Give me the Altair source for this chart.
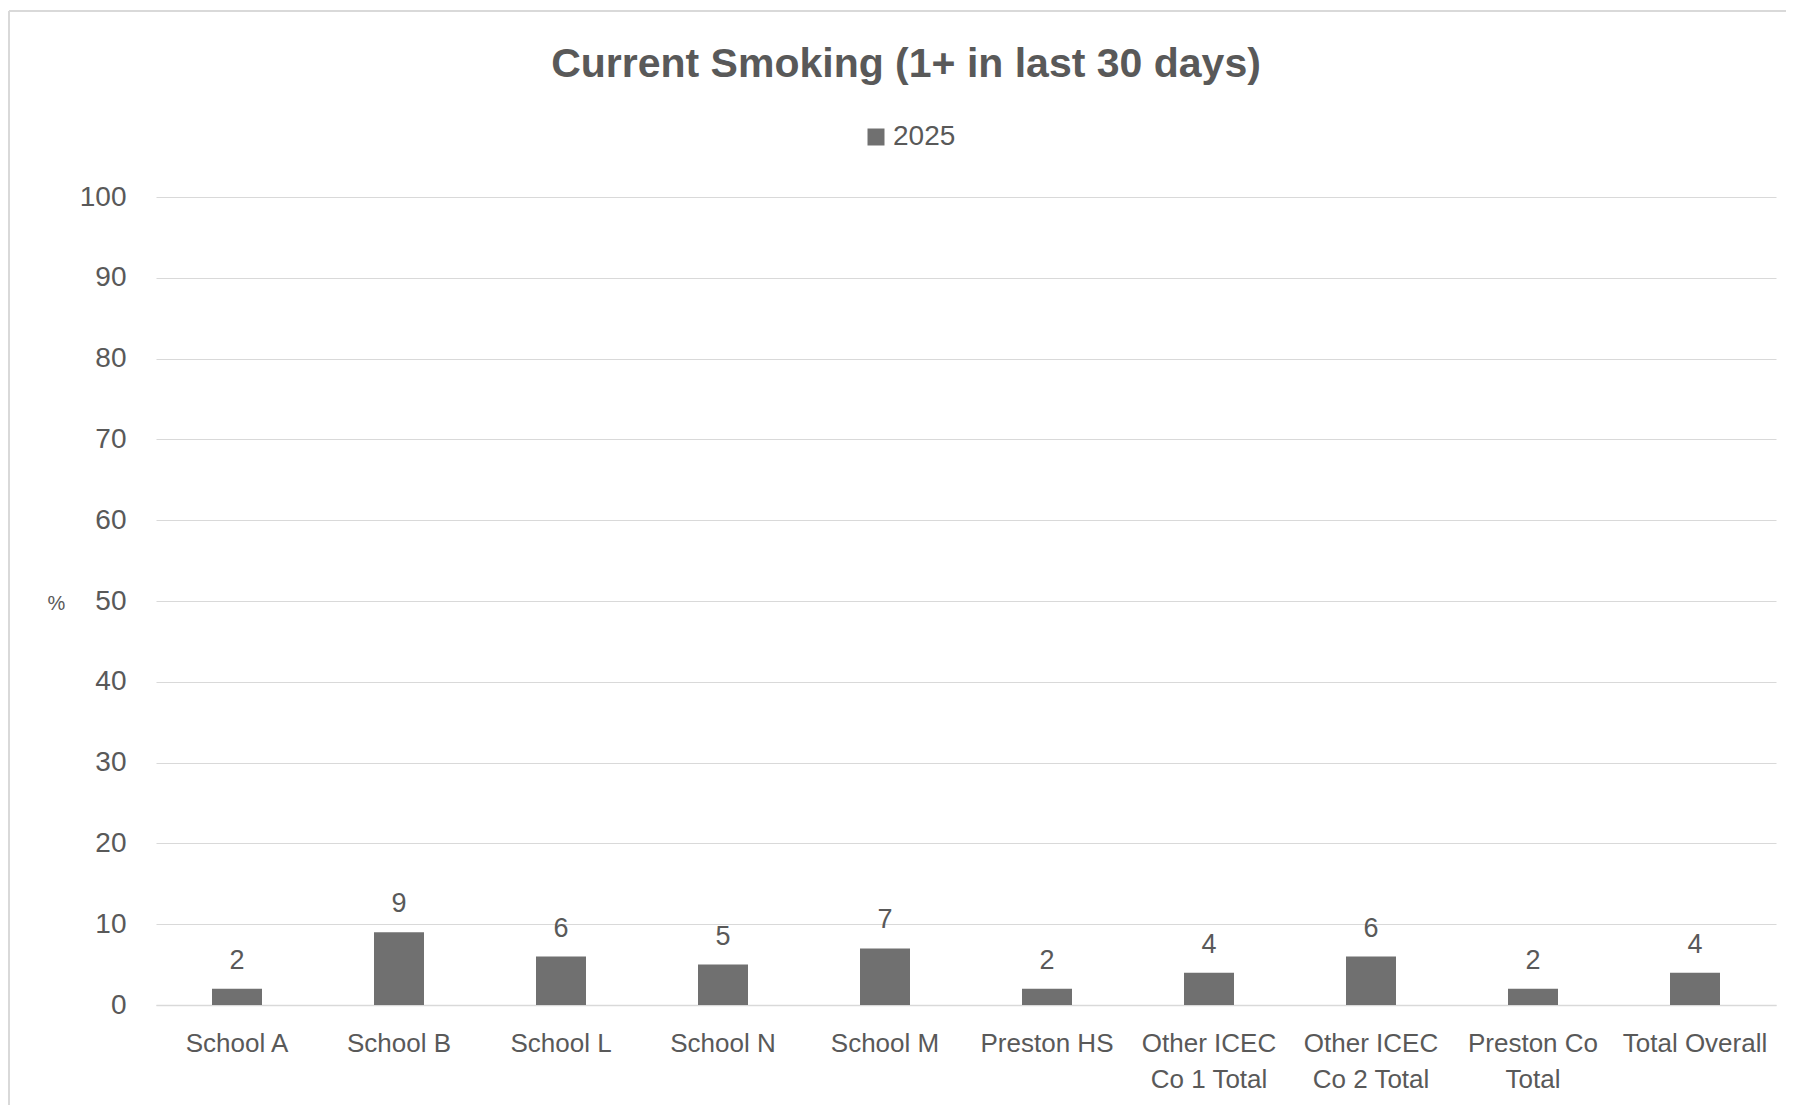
import altair as alt
import pandas as pd

categories = ["School A", "School B", "School L", "School N", "School M",
              "Preston HS", "Other ICEC\nCo 1 Total", "Other ICEC\nCo 2 Total",
              "Preston Co\nTotal", "Total Overall"]
values = [2, 9, 6, 5, 7, 2, 4, 6, 2, 4]
series = ["2025"] * len(categories)
y_ticks = [0, 10, 20, 30, 40, 50, 60, 70, 80, 90, 100]

df = pd.DataFrame({"school": categories, "pct": values, "year": series})

FONT = "Liberation Sans"
TXT = "#595959"
BAR = "#707070"
GRID = "#d9d9d9"

base = alt.Chart(df).encode(
    x=alt.X("school:N", sort=categories, title=None,
            scale=alt.Scale(paddingInner=0, paddingOuter=0),
            axis=alt.Axis(labelAngle=0, labelFontSize=26, labelFont=FONT,
                          labelColor=TXT, ticks=False, domainColor=GRID,
                          domainWidth=1.5, labelPadding=25, labelLineHeight=36,
                          labelExpr="split(datum.label, '\\n')", grid=False)),
    y=alt.Y("pct:Q", title="%",
            scale=alt.Scale(domain=[0, 100], nice=False),
            axis=alt.Axis(values=y_ticks, labelFontSize=28, labelFont=FONT,
                          labelColor=TXT, ticks=False, domain=False,
                          gridColor=GRID, gridWidth=1.2, labelPadding=30,
                          titleAngle=0, titleFontSize=20, titleFont=FONT,
                          titleFontWeight="normal", titleColor=TXT,
                          titleX=-100, titleY=406, titleAlign="center",
                          titleBaseline="middle")),
)

bars = base.mark_bar(size=50).encode(
    color=alt.Color("year:N", scale=alt.Scale(range=[BAR]),
                    legend=alt.Legend(title=None, orient="none", legendX=706,
                                      legendY=-74, symbolType="square",
                                      symbolSize=289, symbolStrokeWidth=0,
                                      labelFontSize=28, labelFont=FONT,
                                      labelColor=TXT, labelOffset=3))
)

labels = base.mark_text(fontSize=27, font=FONT, color=TXT, baseline="alphabetic",
                        dy=-20).encode(text=alt.Text("pct:Q"))

# light chart-area frame (left and top edges visible in the reference)
frame_df = pd.DataFrame({"k": [0]})
frame_left = alt.Chart(frame_df).mark_rule(color=GRID, strokeWidth=2).encode(
    x=alt.value(-147), y=alt.value(-186), y2=alt.value(920))
frame_top = alt.Chart(frame_df).mark_rule(color=GRID, strokeWidth=2).encode(
    x=alt.value(-147), x2=alt.value(1640), y=alt.value(-186))

chart = alt.layer(frame_left, frame_top, bars, labels).properties(
    width=1620, height=808,
    title=alt.Title("Current Smoking (1+ in last 30 days)", fontSize=41,
                    font=FONT, fontWeight="bold", color=TXT, anchor="middle",
                    baseline="alphabetic", offset=-108, dx=-60),
    autosize=alt.AutoSizeParams(type="none"),
    padding={"left": 148, "top": 189, "right": 10, "bottom": 100},
).configure(background="white").configure_view(stroke=None)

chart.save("out.html", embed_options={"renderer": "svg", "actions": False})
